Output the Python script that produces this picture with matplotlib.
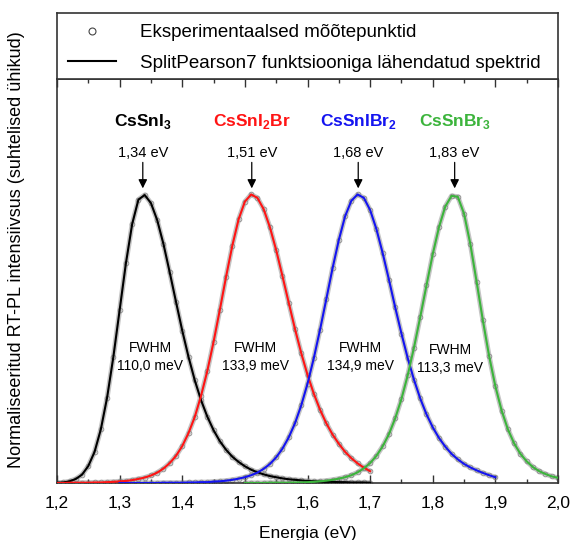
import matplotlib
matplotlib.use("Agg")
import matplotlib.pyplot as plt
from matplotlib.lines import Line2D
from matplotlib.ticker import MultipleLocator, FuncFormatter

plt.rcParams['font.family'] = ['Liberation Sans', 'DejaVu Sans']
plt.rcParams['mathtext.fontset'] = 'custom'
plt.rcParams['mathtext.rm'] = 'Liberation Sans'
plt.rcParams['mathtext.bf'] = 'Liberation Sans:bold'

# ---------------- data ----------------
energy_ev = [1.20, 1.21, 1.22, 1.23, 1.24, 1.25, 1.26, 1.27, 1.28, 1.29,
             1.30, 1.31, 1.32, 1.33, 1.34, 1.35, 1.36, 1.37, 1.38, 1.39,
             1.40, 1.41, 1.42, 1.43, 1.44, 1.45, 1.46, 1.47, 1.48, 1.49,
             1.50, 1.51, 1.52, 1.53, 1.54, 1.55, 1.56, 1.57, 1.58, 1.59,
             1.60, 1.61, 1.62, 1.63, 1.64, 1.65, 1.66, 1.67, 1.68, 1.69,
             1.70, 1.71, 1.72, 1.73, 1.74, 1.75, 1.76, 1.77, 1.78, 1.79,
             1.80, 1.81, 1.82, 1.83, 1.84, 1.85, 1.86, 1.87, 1.88, 1.89,
             1.90, 1.91, 1.92, 1.93, 1.94, 1.95, 1.96, 1.97, 1.98, 1.99,
             2.00]

# CsSnI3 : 1.20 ... 1.70
cssni3 = [0.001, 0.002, 0.006, 0.014, 0.029, 0.059, 0.108, 0.186, 0.296, 0.437,
          0.599, 0.761, 0.897, 0.982, 0.998, 0.970, 0.911, 0.828, 0.730, 0.628,
          0.528, 0.437, 0.356, 0.287, 0.230, 0.183, 0.145, 0.115, 0.091, 0.073,
          0.058, 0.046, 0.037, 0.030, 0.024, 0.020, 0.016, 0.013, 0.011, 0.009,
          0.007, 0.006, 0.005, 0.004, 0.004, 0.003, 0.003, 0.002, 0.002, 0.002,
          0.001]
# CsSnI2Br : 1.20 ... 1.70
cssni2br = [0.000, 0.000, 0.001, 0.001, 0.001, 0.001, 0.002, 0.002, 0.003, 0.004,
            0.006, 0.007, 0.010, 0.014, 0.019, 0.026, 0.036, 0.050, 0.069, 0.094,
            0.128, 0.173, 0.229, 0.302, 0.388, 0.489, 0.600, 0.715, 0.823, 0.914,
            0.975, 1.000, 0.988, 0.949, 0.886, 0.807, 0.717, 0.625, 0.534, 0.450,
            0.375, 0.310, 0.254, 0.207, 0.168, 0.136, 0.108, 0.086, 0.068, 0.053,
            0.041]
# CsSnIBr2 : 1.30 ... 1.90
cssnibr2 = [0.000, 0.000, 0.000, 0.000, 0.000, 0.000, 0.000, 0.001, 0.001, 0.001,
            0.001, 0.002, 0.002, 0.003, 0.003, 0.005, 0.006, 0.008, 0.011, 0.015,
            0.020, 0.027, 0.036, 0.049, 0.066, 0.089, 0.119, 0.158, 0.207, 0.269,
            0.344, 0.432, 0.531, 0.637, 0.744, 0.842, 0.924, 0.978, 1.000, 0.988,
            0.946, 0.880, 0.797, 0.705, 0.609, 0.518, 0.433, 0.358, 0.293, 0.238,
            0.193, 0.156, 0.126, 0.101, 0.082, 0.066, 0.054, 0.044, 0.035, 0.027,
            0.020]
# CsSnBr3 : 1.50 ... 2.00
cssnbr3 = [0.000, 0.000, 0.000, 0.000, 0.001, 0.001, 0.001, 0.001, 0.002, 0.002,
           0.003, 0.004, 0.006, 0.008, 0.011, 0.015, 0.020, 0.027, 0.037, 0.051,
           0.069, 0.094, 0.127, 0.169, 0.224, 0.291, 0.373, 0.469, 0.575, 0.685,
           0.793, 0.887, 0.958, 0.995, 0.992, 0.933, 0.828, 0.698, 0.564, 0.440,
           0.335, 0.251, 0.186, 0.137, 0.101, 0.075, 0.055, 0.041, 0.031, 0.023,
           0.018]

compounds = [r'$\mathbf{CsSnI}_\mathbf{3}$', r'$\mathbf{CsSnI}_\mathbf{2}\mathbf{Br}$',
             r'$\mathbf{CsSnIBr}_\mathbf{2}$', r'$\mathbf{CsSnBr}_\mathbf{3}$']
peak_ev = [1.337, 1.511, 1.681, 1.835]
peak_labels = ['1,34 eV', '1,51 eV', '1,68 eV', '1,83 eV']
fwhm_labels = ['FWHM\n110,0 meV', 'FWHM\n133,9 meV', 'FWHM\n134,9 meV', 'FWHM\n113,3 meV']
legend_labels = ['Eksperimentaalsed mõõtepunktid',
                 'SplitPearson7 funktsiooniga lähendatud spektrid']

# ---------------- styling ----------------
series = [
    (energy_ev[0:51], cssni3, '#000000'),
    (energy_ev[0:51], cssni2br, '#ff1414'),
    (energy_ev[10:71], cssnibr2, '#1414f0'),
    (energy_ev[30:81], cssnbr3, '#3cb43c'),
]
label_colors = ['#000000', '#ff1414', '#1414f0', '#3cb43c']
fwhm_pos = [(1.3485, 0.436), (1.5173, 0.436), (1.6851, 0.436), (1.828, 0.430)]
spine_color = '#333333'

fig = plt.figure(figsize=(5.72, 5.40), dpi=100)
ax = fig.add_axes([57 / 572, 57 / 540, 501 / 572, 404 / 540])
ax_leg = fig.add_axes([57 / 572, 461 / 540, 501 / 572, 66 / 540])

for x, y, c in series:
    ax.plot(x, y, color='#c4c4c4', lw=3.6, solid_capstyle='round', zorder=1)
    ax.plot(x, y, ls='none', marker='o', ms=3.4, mfc='none', mec='#8c8c8c',
            mew=0.6, zorder=2)
    ax.plot(x, y, color=c, lw=1.5, zorder=3)

ax.set_xlim(1.2, 2.0)
ax.set_ylim(0, 1.4)
ax.xaxis.set_major_locator(MultipleLocator(0.1))
ax.xaxis.set_minor_locator(MultipleLocator(0.05))
ax.xaxis.set_major_formatter(FuncFormatter(lambda v, p: f'{v:.1f}'.replace('.', ',')))
ax.tick_params(axis='x', which='both', direction='in', top=True, bottom=True,
               width=1.0, color=spine_color, labelsize=12.5, pad=9.5)
ax.tick_params(axis='x', which='major', length=5.5)
ax.tick_params(axis='x', which='minor', length=3)
ax.tick_params(axis='y', which='both', left=False, labelleft=False)
for s in ax.spines.values():
    s.set_color(spine_color)
    s.set_linewidth(1.2)
ax.set_xlabel('Energia (eV)', fontsize=12.5, labelpad=11)

for i in range(4):
    pk = peak_ev[i]
    ax.text(pk, 1.237, compounds[i], color=label_colors[i], fontsize=12.5,
            ha='center', va='baseline')
    ax.text(pk, 1.131, peak_labels[i], color='black', fontsize=10.5,
            ha='center', va='baseline')
    ax.annotate('', xy=(pk, 1.021), xytext=(pk, 1.111),
                arrowprops=dict(arrowstyle='-|>', mutation_scale=13, lw=0.9,
                                color='black', shrinkA=0, shrinkB=0))
    ax.text(fwhm_pos[i][0], fwhm_pos[i][1], fwhm_labels[i], fontsize=10,
            ha='center', va='center', linespacing=1.35, zorder=4)

fig.text(17 / 572, 1 - 250 / 540,
         'Normaliseeritud RT-PL intensiivsus (suhtelised ühikud)',
         rotation=90, ha='center', va='center', fontsize=13)

# legend box
ax_leg.set_xticks([])
ax_leg.set_yticks([])
for s in ax_leg.spines.values():
    s.set_color(spine_color)
    s.set_linewidth(1.2)
handles = [Line2D([], [], ls='none', marker='o', ms=5, mfc='none', mec='#444444', mew=0.8),
           Line2D([], [], color='black', lw=1.5)]
ax_leg.legend(handles, legend_labels, loc='center left', bbox_to_anchor=(0, 0.47),
              frameon=False, fontsize=13.5, handlelength=2.56, handletextpad=1.28,
              borderaxespad=0.59, borderpad=0, labelspacing=0.72)

fig.savefig('out.png', dpi=100)
